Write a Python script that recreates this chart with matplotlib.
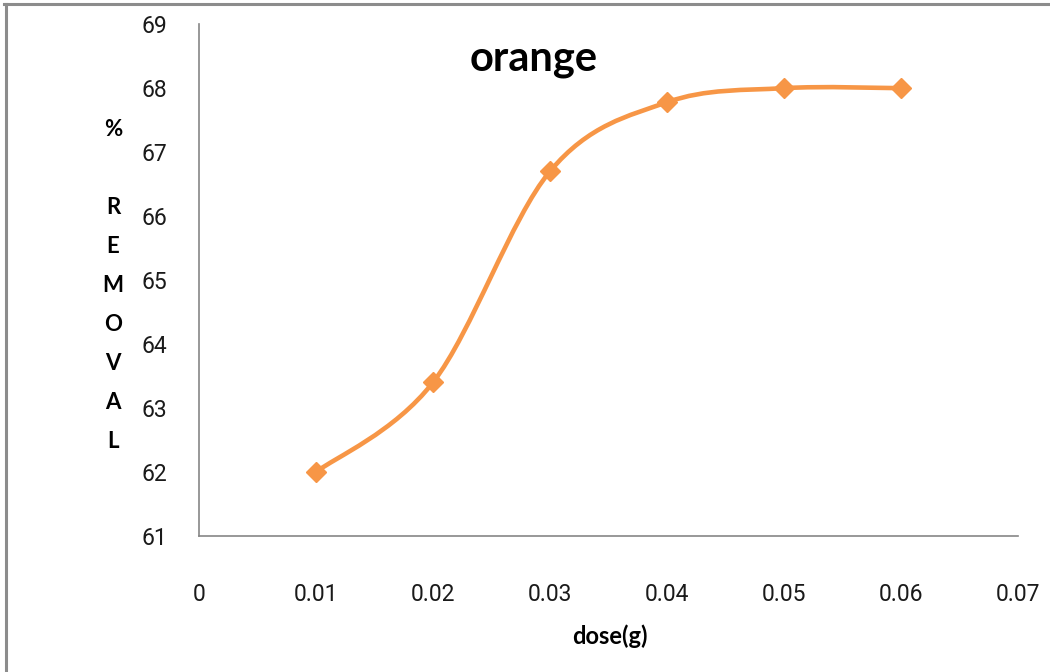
import matplotlib
matplotlib.use("Agg")
import matplotlib.pyplot as plt
from matplotlib.path import Path
from matplotlib.patches import PathPatch
from matplotlib.lines import Line2D
import numpy as np

# data
dose = [0.01, 0.02, 0.03, 0.04, 0.05, 0.06]
removal = [62.0, 63.4, 66.7, 67.78, 68.0, 68.0]
x_ticks = [0, 0.01, 0.02, 0.03, 0.04, 0.05, 0.06, 0.07]
x_tick_labels = ["0", "0.01", "0.02", "0.03", "0.04", "0.05", "0.06", "0.07"]
y_ticks = [61, 62, 63, 64, 65, 66, 67, 68, 69]

title = "orange"
x_label = "dose(g)"
y_label_letters = ["%", "", "R", "E", "M", "O", "V", "A", "L"]

line_color = "#F79646"
axis_color = "#868686"
tick_font = ["Roboto", "DejaVu Sans"]
bold_font = ["Lato", "DejaVu Sans"]


def smooth_path(xs, ys):
    # Excel-like smoothed line: cubic bezier segments (Catmull-Rom, 1/6 tension)
    pts = np.column_stack([xs, ys])
    n = len(pts)
    verts = [pts[0]]
    codes = [Path.MOVETO]
    for i in range(n - 1):
        p0 = pts[i - 1] if i > 0 else pts[i]
        p1 = pts[i]
        p2 = pts[i + 1]
        p3 = pts[i + 2] if i + 2 < n else pts[i + 1]
        c1 = p1 + (p2 - p0) / 6.0
        c2 = p2 - (p3 - p1) / 6.0
        verts += [c1, c2, p2]
        codes += [Path.CURVE4] * 3
    return Path(verts, codes)


fig = plt.figure(figsize=(10.5, 6.72), dpi=100)
ax = fig.add_axes([0.1895, 0.2024, 0.78, 0.7616])

ax.add_patch(PathPatch(smooth_path(dose, removal), facecolor="none",
                       edgecolor=line_color, lw=3.3, capstyle="round",
                       joinstyle="round", zorder=3))
ax.plot(dose, removal, linestyle="none", marker="D", markersize=10,
        color=line_color, markeredgecolor=line_color, zorder=4)

ax.set_xlim(0, 0.07)
ax.set_ylim(61, 69)
ax.set_xticks(x_ticks)
ax.set_xticklabels(x_tick_labels)
ax.set_yticks(y_ticks)
ax.tick_params(axis="both", length=0, labelsize=16.5, labelcolor="#1a1a1a")
ax.tick_params(axis="x", pad=34)
ax.tick_params(axis="y", pad=23)
for lab in ax.get_xticklabels() + ax.get_yticklabels():
    lab.set_family(tick_font)

for side in ["top", "right"]:
    ax.spines[side].set_visible(False)
for side in ["left", "bottom"]:
    ax.spines[side].set_color(axis_color)
    ax.spines[side].set_linewidth(1.2)

fig.text(0.508, 0.912, title, ha="center", va="center", fontsize=30,
         fontweight="bold", family=bold_font)
fig.text(0.581, 0.053, x_label, ha="center", va="center", fontsize=17,
         fontweight="bold", family=bold_font)

# stacked vertical y label
y0 = 0.808
step = 39 / 672
for i, ch in enumerate(y_label_letters):
    if ch:
        fig.text(0.1075, y0 - i * step, ch, ha="center", va="center",
                 fontsize=16, fontweight="bold", family=bold_font)

# grey frame of the original picture
fig.add_artist(Line2D([0.004, 1.0], [0.9945, 0.9945], transform=fig.transFigure,
                      color="#8c8c8c", lw=2.2))
fig.add_artist(Line2D([0.0058, 0.0058], [0.0, 0.9945], transform=fig.transFigure,
                      color="#8c8c8c", lw=2.2))

fig.savefig("out.png", dpi=100)
